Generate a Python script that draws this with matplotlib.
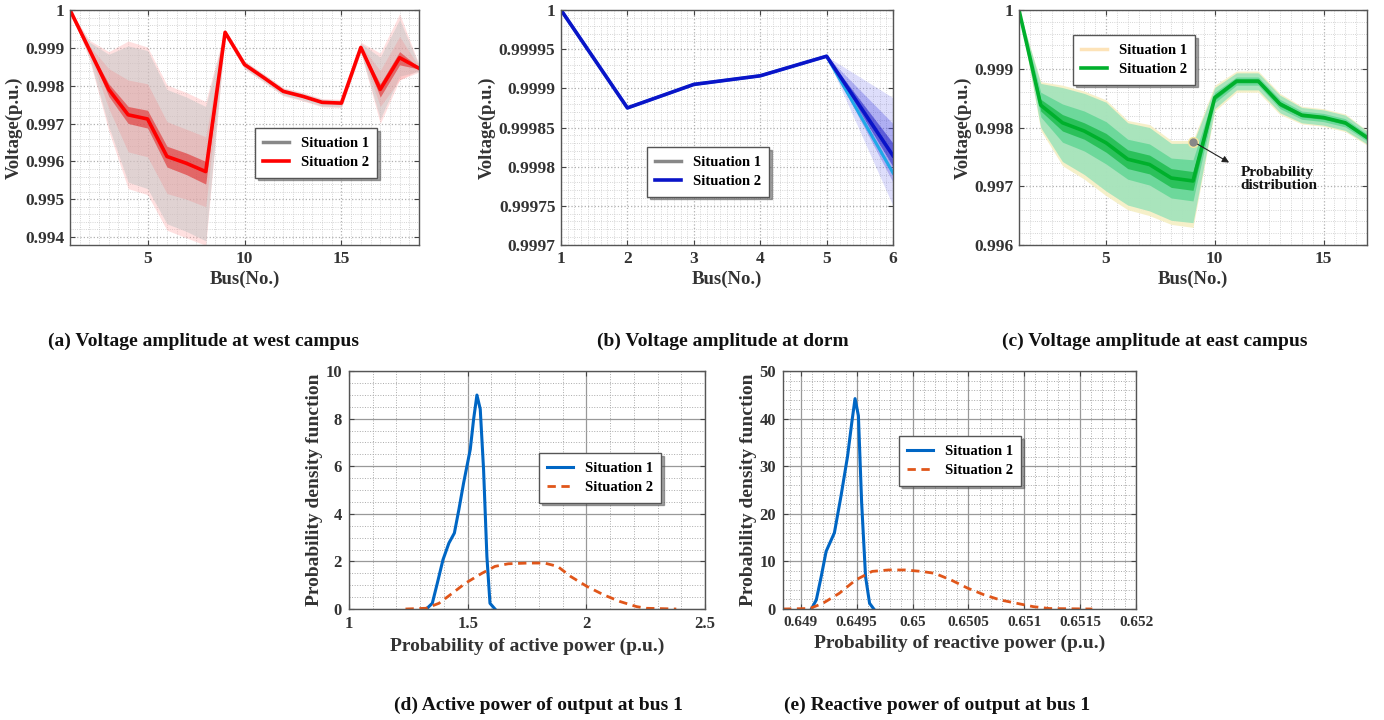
import matplotlib
matplotlib.use("Agg")
import matplotlib.pyplot as plt
from matplotlib.ticker import MultipleLocator, FuncFormatter

plt.rcParams["font.family"] = ["Liberation Serif", "DejaVu Serif"]
plt.rcParams["font.weight"] = "bold"
plt.rcParams["axes.labelweight"] = "bold"

# ---- (a) west campus ----
a_bus = list(range(1, 20))
a_med = [1.0, 0.99895, 0.99790, 0.99723, 0.99712, 0.99613, 0.99595, 0.99573, 0.99941, 0.99856,
         0.99821, 0.99785, 0.99772, 0.99756, 0.99754, 0.99901, 0.99790, 0.99874, 0.99846]
a_outer_hi = [1.0, 0.99920, 0.99890, 0.99918, 0.99902, 0.99802, 0.99782, 0.99758, 0.99948, 0.99866,
              0.99831, 0.99795, 0.99782, 0.99766, 0.99764, 0.99915, 0.99886, 0.99990, 0.99856]
a_outer_lo = [1.0, 0.99870, 0.99680, 0.99528, 0.99512, 0.99418, 0.99398, 0.99378, 0.99932, 0.99844,
              0.99809, 0.99773, 0.99760, 0.99744, 0.99742, 0.99888, 0.99700, 0.99815, 0.99836]
a_grey_hi = [1.0, 0.99915, 0.99883, 0.99905, 0.99893, 0.99790, 0.99770, 0.99745, 0.99946, 0.99864,
             0.99829, 0.99793, 0.99780, 0.99764, 0.99762, 0.99912, 0.99875, 0.99975, 0.99854]
a_grey_lo = [1.0, 0.99875, 0.99692, 0.99545, 0.99528, 0.99435, 0.99415, 0.99390, 0.99934, 0.99846,
             0.99811, 0.99775, 0.99762, 0.99746, 0.99744, 0.99890, 0.99712, 0.99825, 0.99838]
a_mid_hi = [1.0, 0.99905, 0.99845, 0.99815, 0.99805, 0.99705, 0.99685, 0.99665, 0.99944, 0.99860,
            0.99825, 0.99789, 0.99776, 0.99760, 0.99758, 0.99906, 0.99840, 0.99930, 0.99850]
a_mid_lo = [1.0, 0.99885, 0.99740, 0.99625, 0.99612, 0.99515, 0.99500, 0.99480, 0.99938, 0.99852,
            0.99817, 0.99781, 0.99768, 0.99752, 0.99750, 0.99896, 0.99745, 0.99815, 0.99842]
a_inner_hi = [1.0, 0.99898, 0.99805, 0.99745, 0.99735, 0.99640, 0.99622, 0.99600, 0.99942, 0.99858,
              0.99823, 0.99787, 0.99774, 0.99758, 0.99756, 0.99903, 0.99805, 0.99890, 0.99848]
a_inner_lo = [1.0, 0.99892, 0.99772, 0.99700, 0.99688, 0.99585, 0.99565, 0.99540, 0.99940, 0.99854,
              0.99819, 0.99783, 0.99770, 0.99754, 0.99752, 0.99899, 0.99770, 0.99855, 0.99844]

# ---- (b) dorm ----
b_bus = [1, 2, 3, 4, 5, 6]
b_med = [1.0, 0.999875, 0.999905, 0.999916, 0.999941, 0.999814]
b_alt = [1.0, 0.999875, 0.999905, 0.999916, 0.999941, 0.999792]
b_outer_hi = [1.0, 0.999875, 0.999905, 0.999916, 0.999941, 0.999888]
b_outer_lo = [1.0, 0.999875, 0.999905, 0.999916, 0.999941, 0.999750]
b_mid_hi = [1.0, 0.999875, 0.999905, 0.999916, 0.999941, 0.999855]
b_mid_lo = [1.0, 0.999875, 0.999905, 0.999916, 0.999941, 0.999780]
b_inner_hi = [1.0, 0.999875, 0.999905, 0.999916, 0.999941, 0.999830]
b_inner_lo = [1.0, 0.999875, 0.999905, 0.999916, 0.999941, 0.999800]

# ---- (c) east campus ----
c_bus = list(range(1, 18))
c_med = [1.0, 0.99838, 0.99808, 0.99794, 0.99774, 0.99746, 0.99737, 0.99714, 0.99709, 0.99851,
         0.99879, 0.99879, 0.99840, 0.99821, 0.99817, 0.99808, 0.99783]
c_s1_hi = [1.0, 0.99878, 0.99872, 0.99862, 0.99847, 0.99812, 0.99805, 0.99778, 0.99778, 0.99872,
           0.99896, 0.99896, 0.99858, 0.99836, 0.99832, 0.99823, 0.99795]
c_s1_lo = [1.0, 0.99795, 0.99735, 0.99712, 0.99684, 0.99660, 0.99650, 0.99635, 0.99630, 0.99828,
           0.99860, 0.99860, 0.99822, 0.99806, 0.99802, 0.99793, 0.99770]
c_outer_hi = [1.0, 0.99875, 0.99868, 0.99858, 0.99843, 0.99808, 0.99800, 0.99773, 0.99773, 0.99868,
              0.99893, 0.99893, 0.99855, 0.99834, 0.99830, 0.99821, 0.99794]
c_outer_lo = [1.0, 0.99800, 0.99742, 0.99720, 0.99692, 0.99668, 0.99658, 0.99642, 0.99638, 0.99832,
              0.99864, 0.99864, 0.99825, 0.99808, 0.99804, 0.99795, 0.99772]
c_mid_hi = [1.0, 0.99860, 0.99840, 0.99828, 0.99810, 0.99780, 0.99772, 0.99748, 0.99745, 0.99860,
            0.99886, 0.99886, 0.99848, 0.99828, 0.99824, 0.99815, 0.99789]
c_mid_lo = [1.0, 0.99818, 0.99775, 0.99760, 0.99738, 0.99712, 0.99702, 0.99680, 0.99675, 0.99842,
            0.99872, 0.99872, 0.99832, 0.99814, 0.99810, 0.99801, 0.99777]
c_inner_hi = [1.0, 0.99848, 0.99822, 0.99808, 0.99790, 0.99762, 0.99753, 0.99730, 0.99725, 0.99855,
              0.99882, 0.99882, 0.99844, 0.99824, 0.99820, 0.99811, 0.99786]
c_inner_lo = [1.0, 0.99828, 0.99794, 0.99780, 0.99758, 0.99730, 0.99721, 0.99698, 0.99693, 0.99847,
              0.99876, 0.99876, 0.99836, 0.99818, 0.99814, 0.99805, 0.99780]

# ---- (d) active power pdf ----
d_s1_x = [1.326, 1.351, 1.372, 1.396, 1.421, 1.444, 1.463, 1.483, 1.511, 1.525, 1.539,
          1.553, 1.567, 1.581, 1.594, 1.615]
d_s1_y = [0, 0.24, 1.08, 2.07, 2.77, 3.19, 4.18, 5.30, 6.71, 7.97, 8.99,
          8.40, 5.86, 2.21, 0.24, 0]
d_s2_x = [1.238, 1.324, 1.379, 1.435, 1.490, 1.560, 1.615, 1.671, 1.754, 1.824, 1.879,
          1.935, 2.004, 2.074, 2.143, 2.212, 2.254, 2.379]
d_s2_y = [0, 0.03, 0.24, 0.66, 1.08, 1.50, 1.79, 1.90, 1.93, 1.93, 1.79,
          1.36, 0.94, 0.59, 0.31, 0.10, 0.03, 0]

# ---- (e) reactive power pdf ----
e_s1_x = [0.649094, 0.649138, 0.649182, 0.649226, 0.649300, 0.649359, 0.649418, 0.649456,
          0.649485, 0.649515, 0.649544, 0.649579, 0.649615, 0.649653]
e_s1_y = [0, 1.9, 6.8, 12.1, 16.0, 23.7, 32.1, 39.2, 44.2, 40.6, 22.3, 6.8, 1.2, 0]
e_s2_x = [0.64884, 0.649079, 0.649197, 0.649344, 0.649491, 0.649638, 0.649785, 0.649932,
          0.650079, 0.650197, 0.650344, 0.650491, 0.650638, 0.650785, 0.650932, 0.651079,
          0.651226, 0.651609]
e_s2_y = [0, 0.1, 1.2, 3.3, 6.1, 7.9, 8.2, 8.2, 7.9, 7.5, 6.1, 4.4, 3.0, 1.9, 1.2, 0.5, 0.1, 0]

captions = ["(a) Voltage amplitude at west campus", "(b) Voltage amplitude at dorm",
            "(c) Voltage amplitude at east campus", "(d) Active power of output at bus 1",
            "(e) Reactive power of output at bus 1"]

W, H = 1384, 720
fig = plt.figure(figsize=(W / 100, H / 100), dpi=100)


def box(l, t, r, b):
    return [l / W, 1 - b / H, (r - l) / W, (b - t) / H]


fmt = FuncFormatter(lambda v, p: f"{v:.10g}")


def style_top(ax):
    ax.set_facecolor("white")
    ax.grid(True, which="major", color="#b0b0b0", linestyle=":", linewidth=0.9)
    ax.grid(True, which="minor", color="#c8c8c8", linestyle=":", linewidth=0.6)
    ax.tick_params(which="both", direction="in", top=True, right=True, labelsize=12.5,
                   color="#444444", labelcolor="#333333", pad=4)
    ax.tick_params(which="minor", length=0)
    for s in ax.spines.values():
        s.set_color("#555555")
        s.set_linewidth(1.0)
    ax.yaxis.set_major_formatter(fmt)
    ax.set_xlabel("Bus(No.)", fontsize=13.5, color="#333333", labelpad=3)
    ax.set_ylabel("Voltage(p.u.)", fontsize=13.5, color="#333333", labelpad=2)
    ax.set_axisbelow(True)


def leg(ax, handles, bbox):
    lg = ax.legend(handles=handles, labels=["Situation 1", "Situation 2"], loc="center",
                   bbox_to_anchor=bbox, bbox_transform=fig.transFigure, fancybox=False,
                   shadow=True, framealpha=1, edgecolor="#555555", fontsize=10.5,
                   handlelength=1.8, borderpad=0.55, labelspacing=0.45)
    return lg


# (a)
ax = fig.add_axes(box(70, 10, 419, 245))
ax.fill_between(a_bus, a_outer_lo, a_outer_hi, color="#ff9a9a", alpha=0.3, lw=0)
ax.fill_between(a_bus, a_grey_lo, a_grey_hi, color="#c8c8c8", alpha=0.55, lw=0)
ax.fill_between(a_bus, a_mid_lo, a_mid_hi, color="#ff6060", alpha=0.18, lw=0)
ax.fill_between(a_bus, a_inner_lo, a_inner_hi, color="#e00000", alpha=0.45, lw=0)
h1, = ax.plot([], [], color="#888888", lw=2.5)
h2, = ax.plot(a_bus, a_med, color="#ff0000", lw=2.6)
ax.set_xlim(1, 19)
ax.set_ylim(0.99379, 1.0)
ax.set_xticks([5, 10, 15])
ax.set_yticks([0.994, 0.995, 0.996, 0.997, 0.998, 0.999, 1.0])
ax.xaxis.set_minor_locator(MultipleLocator(0.5))
ax.yaxis.set_minor_locator(MultipleLocator(0.0002))
style_top(ax)
leg(ax, [h1, h2], (316 / W, 1 - 153 / H))

# (b)
ax = fig.add_axes(box(561, 10, 893, 245))
ax.fill_between(b_bus, b_outer_lo, b_outer_hi, color="#6c6cf0", alpha=0.22, lw=0)
ax.fill_between(b_bus, b_mid_lo, b_mid_hi, color="#4040e0", alpha=0.3, lw=0)
ax.fill_between(b_bus, b_inner_lo, b_inner_hi, color="#1010c0", alpha=0.5, lw=0)
ax.plot(b_bus, b_alt, color="#20a8e8", lw=2.2)
h1, = ax.plot([], [], color="#888888", lw=2.5)
h2, = ax.plot(b_bus, b_med, color="#0a14c8", lw=2.6)
ax.set_xlim(1, 6)
ax.set_ylim(0.9997, 1.0)
ax.set_xticks([1, 2, 3, 4, 5, 6])
ax.set_yticks([0.9997, 0.99975, 0.9998, 0.99985, 0.9999, 0.99995, 1.0])
ax.xaxis.set_minor_locator(MultipleLocator(0.1))
ax.yaxis.set_minor_locator(MultipleLocator(0.00001))
style_top(ax)
leg(ax, [h1, h2], (708 / W, 1 - 172 / H))

# (c)
ax = fig.add_axes(box(1019, 10, 1367, 245))
ax.fill_between(c_bus, c_s1_lo, c_s1_hi, color="#f6efc4", alpha=0.9, lw=0)
ax.fill_between(c_bus, c_outer_lo, c_outer_hi, color="#8fe0b8", alpha=0.75, lw=0)
ax.fill_between(c_bus, c_mid_lo, c_mid_hi, color="#3ccf80", alpha=0.55, lw=0)
ax.fill_between(c_bus, c_inner_lo, c_inner_hi, color="#10b840", alpha=0.7, lw=0)
h1, = ax.plot([], [], color="#fde3b8", lw=2.5)
h2, = ax.plot(c_bus, c_med, color="#00b02c", lw=2.6)
ax.plot([9], [0.99776], marker="o", ms=7, color="#888888", mec="#f4e6a0", mew=1, zorder=5)
ax.annotate("", xy=(10.77, 0.99738), xytext=(9.1, 0.99774),
            arrowprops=dict(arrowstyle="-|>", color="#222222", lw=0.8), zorder=5)
ax.text(11.2, 0.99712, "Probability\ndistribution", fontsize=11, color="#111111",
        ha="left", va="center", linespacing=1.0)
ax.set_xlim(1, 17)
ax.set_ylim(0.996, 1.0)
ax.set_xticks([5, 10, 15])
ax.set_yticks([0.996, 0.997, 0.998, 0.999, 1.0])
ax.xaxis.set_minor_locator(MultipleLocator(0.5))
ax.yaxis.set_minor_locator(MultipleLocator(0.0002))
style_top(ax)
leg(ax, [h1, h2], (1134 / W, 1 - 60 / H))


def style_bot(ax, xlabel):
    ax.grid(True, which="major", color="#999999", linestyle="-", linewidth=0.9)
    ax.grid(True, which="minor", color="#aaaaaa", linestyle=":", linewidth=0.7)
    ax.tick_params(which="both", direction="in", top=True, right=True, labelsize=12,
                   color="#444444", labelcolor="#333333", pad=5)
    ax.tick_params(which="minor", length=0)
    for s in ax.spines.values():
        s.set_color("#555555")
        s.set_linewidth(1.0)
    ax.xaxis.set_major_formatter(fmt)
    ax.set_xlabel(xlabel, fontsize=14, color="#333333", labelpad=4)
    ax.set_ylabel("Probability density function", fontsize=14, color="#333333", labelpad=2)
    ax.set_axisbelow(True)


# (d)
ax = fig.add_axes(box(349, 371, 705, 609))
h1, = ax.plot(d_s1_x, d_s1_y, color="#0066c4", lw=2.2)
h2, = ax.plot(d_s2_x, d_s2_y, color="#e0561a", lw=2.0, ls=(0, (3, 2)))
ax.set_xlim(1, 2.5)
ax.set_ylim(0, 10)
ax.set_xticks([1, 1.5, 2, 2.5])
ax.set_yticks([0, 2, 4, 6, 8, 10])
ax.xaxis.set_minor_locator(MultipleLocator(0.1))
ax.yaxis.set_minor_locator(MultipleLocator(0.5))
style_bot(ax, "Probability of active power (p.u.)")
leg(ax, [h1, h2], (600 / W, 1 - 478 / H))

# (e)
ax = fig.add_axes(box(783, 371, 1136, 609))
h1, = ax.plot(e_s1_x, e_s1_y, color="#0066c4", lw=2.2)
h2, = ax.plot(e_s2_x, e_s2_y, color="#e0561a", lw=2.0, ls=(0, (3, 2)))
ax.set_xlim(0.64884, 0.652)
ax.set_ylim(0, 50)
ax.set_xticks([0.649, 0.6495, 0.65, 0.6505, 0.651, 0.6515, 0.652])
ax.set_yticks([0, 10, 20, 30, 40, 50])
ax.xaxis.set_minor_locator(MultipleLocator(0.0001))
ax.yaxis.set_minor_locator(MultipleLocator(2))
style_bot(ax, "Probability of reactive power (p.u.)")
ax.tick_params(axis="x", labelsize=11)
leg(ax, [h1, h2], (960 / W, 1 - 461 / H))

# captions
cap_pos = [(203, 341), (723, 341), (1155, 341), (538, 705), (937, 705)]
for txt, (cx, cy) in zip(captions, cap_pos):
    fig.text(cx / W, 1 - cy / H, txt, ha="center", va="center", fontsize=14, color="#111111")

fig.savefig("out.png", dpi=100)
